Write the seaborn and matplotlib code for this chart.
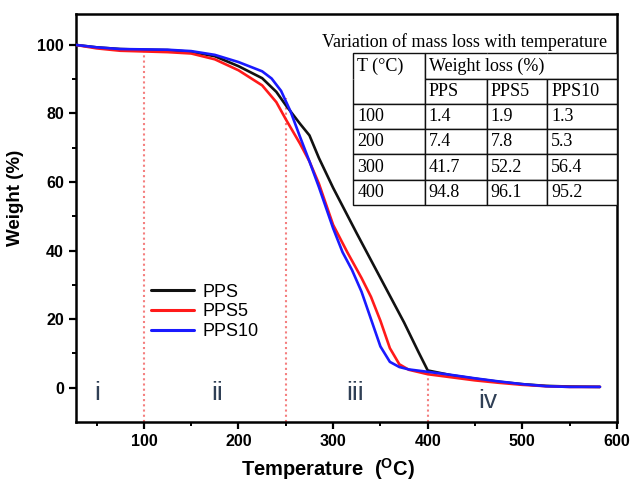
import matplotlib
matplotlib.use('Agg')
import matplotlib.pyplot as plt
import numpy as np
import pandas as pd
import seaborn as sns

# TGA curves
temp_pps = [28, 50, 75, 100, 125, 150, 175, 200, 225, 240, 250, 265, 275, 285, 300,
            325, 350, 375, 390, 400, 425, 450, 475, 500, 525, 550, 582]
weight_pps = [100, 99.3, 98.8, 98.6, 98.5, 98.0, 96.7, 93.8, 90.3, 86.3, 82.4, 77.0, 73.6, 67.0, 58.3,
              45.0, 32.0, 19.0, 10.5, 5.0, 3.6, 2.6, 1.7, 1.0, 0.5, 0.3, 0.2]

temp_pps5 = [28, 50, 75, 100, 125, 150, 175, 200, 225, 240, 250, 265, 275, 285, 300, 315,
             330, 340, 350, 360, 370, 380, 400, 425, 450, 475, 500, 525, 550, 582]
weight_pps5 = [100, 99.0, 98.3, 98.1, 97.9, 97.5, 95.8, 92.6, 88.2, 83.3, 78.3, 71.2, 66.0, 59.5, 47.5, 39.5,
               32.0, 26.5, 19.5, 11.5, 6.8, 5.2, 3.9, 3.0, 2.1, 1.4, 0.8, 0.4, 0.2, 0.2]

temp_pps10 = [28, 50, 75, 100, 125, 150, 175, 200, 225, 235, 245, 255, 265, 275, 285, 290, 300,
              310, 320, 330, 340, 350, 360, 370, 380, 400, 425, 450, 475, 500, 525, 550, 582]
weight_pps10 = [100, 99.3, 98.8, 98.7, 98.6, 98.2, 97.1, 95.0, 92.3, 90.2, 86.6, 80.6, 73.2, 66.0, 58.5, 54.5, 46.5,
                39.5, 34.3, 28.0, 20.0, 12.0, 7.5, 6.0, 5.3, 4.6, 3.7, 2.7, 1.8, 1.0, 0.4, 0.2, 0.2]

series_names = ['PPS', 'PPS5', 'PPS10']
series_colors = ['#111111', '#ff1a1a', '#1a1aff']

# inset table
table_title = 'Variation of mass loss with temperature'
table_temps = ['100', '200', '300', '400']
loss_pps = ['1.4', '7.4', '41.7', '94.8']
loss_pps5 = ['1.9', '7.8', '52.2', '96.1']
loss_pps10 = ['1.3', '5.3', '56.4', '95.2']

# stage boundaries and labels
stage_bounds = [100, 250, 400]
stage_tops = [98.5, 84.6, 5.0]
stage_labels = ['i', 'ii', 'iii', 'iv']
stage_x = [51, 177, 323, 463]
stage_y = [-1.5, -1.5, -1.5, -4.0]

frames = []
for name, t, w in zip(series_names,
                      [temp_pps, temp_pps5, temp_pps10],
                      [weight_pps, weight_pps5, weight_pps10]):
    frames.append(pd.DataFrame({'Temperature': t, 'Weight': w, 'Sample': name}))
df = pd.concat(frames, ignore_index=True)

sns.set_style('ticks', {'axes.edgecolor': 'black', 'xtick.color': 'black', 'ytick.color': 'black',
                        'text.color': 'black', 'axes.labelcolor': 'black'})
plt.rcParams['font.family'] = ['Liberation Sans', 'DejaVu Sans']
plt.rcParams['mathtext.fontset'] = 'custom'
plt.rcParams['mathtext.bf'] = 'Liberation Sans:bold'
plt.rcParams['mathtext.rm'] = 'Liberation Sans'

fig = plt.figure(figsize=(6.42, 4.86), dpi=100)
ax = fig.add_axes([0.118, 0.132, 0.843, 0.839])

# dotted stage boundaries
for xb, top in zip(stage_bounds, stage_tops):
    ax.plot([xb, xb], [-10, top], ls=(0, (1, 1.5)), color='#f47f7f', lw=1.5, zorder=1)

sns.lineplot(data=df, x='Temperature', y='Weight', hue='Sample',
             palette=dict(zip(series_names, series_colors)),
             estimator=None, sort=False, linewidth=1.9, ax=ax, zorder=3)

for lab, xs, ys in zip(stage_labels, stage_x, stage_y):
    ax.text(xs, ys, lab, fontsize=19, color='#2f3f55', ha='center', va='center')

ax.set_xlim(28, 600)
ax.set_ylim(-10, 109)
ax.set_xticks([100, 200, 300, 400, 500, 600])
ax.set_xticks([50, 150, 250, 350, 450, 550], minor=True)
ax.set_yticks([0, 20, 40, 60, 80, 100])
ax.set_yticks([10, 30, 50, 70, 90], minor=True)
ax.tick_params(which='major', length=5, width=1.6, labelsize=11.5)
ax.tick_params(which='minor', length=3, width=1.4)
for lbl in ax.get_xticklabels() + ax.get_yticklabels():
    lbl.set_fontweight('bold')
for sp in ax.spines.values():
    sp.set_linewidth(1.8)
    sp.set_color('black')

ax.set_xlabel(r'Temperature  ($\mathbf{^{O}}$C)', fontsize=14.5, fontweight='bold')
ax.set_ylabel('Weight (%)', fontsize=13.5, fontweight='bold')
ax.xaxis.set_label_coords(0.466, -0.085)
ax.yaxis.set_label_coords(-0.095, 0.55)

leg = ax.legend(loc='upper left', bbox_to_anchor=(0.115, 0.37), frameon=True,
                fontsize=13, handlelength=2.4, handletextpad=0.5, labelspacing=0.15,
                borderpad=0.2, title=None)
leg.get_frame().set_edgecolor('none')
leg.get_frame().set_facecolor('white')
leg.get_frame().set_alpha(1)
for line in leg.get_lines():
    line.set_linewidth(2.2)

# inset table
cells = [['T (°C)', 'Weight loss (%)', '', ''],
         ['', 'PPS', 'PPS5', 'PPS10']]
for row in zip(table_temps, loss_pps, loss_pps5, loss_pps10):
    cells.append(list(row))
tab = ax.table(cellText=cells, cellLoc='left', colWidths=[72, 62, 60, 70],
               bbox=[0.512, 0.532, 0.488, 0.372], zorder=5)
tab.auto_set_font_size(False)
edges = {(0, 0): 'TLR', (1, 0): 'BLR', (0, 1): 'TLB', (0, 2): 'TB', (0, 3): 'TBR'}
for (r, c), cell in tab.get_celld().items():
    cell.set_linewidth(1.0)
    cell.set_edgecolor('#111111')
    cell.set_facecolor('white')
    cell.get_text().set_fontfamily('Liberation Serif')
    cell.get_text().set_fontsize(13)
    cell.PAD = 0.06
    if (r, c) in edges:
        cell.visible_edges = edges[(r, c)]
ax.text(0.718, 0.931, table_title, transform=ax.transAxes, ha='center', va='center',
        fontsize=13, family='Liberation Serif', zorder=6)

fig.savefig('out.png', dpi=100)
